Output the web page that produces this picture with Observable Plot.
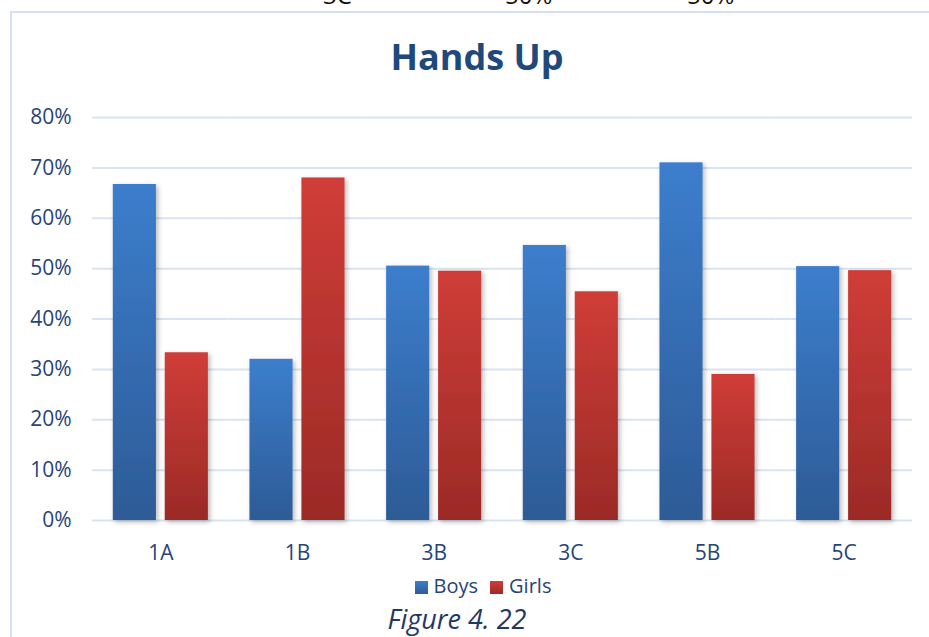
<!DOCTYPE html>
<html>
<head>
<meta charset="utf-8">
<script src="https://cdn.jsdelivr.net/npm/d3@7"></script>
<script src="https://cdn.jsdelivr.net/npm/@observablehq/plot@0.6"></script>
<style>
  html, body { margin: 0; padding: 0; background: #fff; width: 929px; height: 637px; overflow: hidden; }
  #page { position: relative; width: 929px; height: 637px; font-family: "Open Sans", sans-serif; }
  .abs { position: absolute; white-space: nowrap; }
  #box { position: absolute; left: 10px; top: 11px; width: 940px; height: 700px; border-left: 2px solid #d6e2f3; border-top: 2px solid #d6e2f3; box-sizing: border-box; }
  #title { left: 277px; width: 400px; top: 37px; text-align: center; font-weight: 700; font-size: 36px; line-height: 40px; color: #1f497d; }
  #chart { position: absolute; left: 0; top: 95px; }
  #legend { left: 283px; width: 400px; top: 572px; text-align: center; font-size: 20px; line-height: 28px; color: #264478; }
  #legend .sw { display: inline-block; width: 13px; height: 13px; vertical-align: -1px; margin-right: 6px; }
  #legend .item { margin: 0 6px 0 6px; }
  #caption { left: 257px; width: 400px; top: 603px; text-align: center; font-style: italic; font-size: 27px; line-height: 32px; color: #1f3864; }
  .cut { top: -17px; font-size: 24px; line-height: 24px; color: #111; }
</style>
</head>
<body>
<div id="page">
  <div class="abs cut" style="left:323px">3C</div>
  <div class="abs cut" style="left:505px">50%</div>
  <div class="abs cut" style="left:687px">50%</div>
  <div id="box"></div>
  <div id="title" class="abs">Hands Up</div>
  <div id="chart"></div>
  <div id="legend" class="abs"></div>
  <div id="caption" class="abs">Figure 4. 22</div>
</div>
<script>
// ---- data ----
const classes = ["1A", "1B", "3B", "3C", "5B", "5C"];
const seriesNames = ["Boys", "Girls"];
const boys  = [66.7, 32.0, 50.5, 54.6, 71.0, 50.4];
const girls = [33.3, 68.0, 49.5, 45.4, 29.0, 49.6];
const yTicks = [0, 10, 20, 30, 40, 50, 60, 70, 80];

const rows = classes.flatMap((c, i) => [
  {cls: c, sex: seriesNames[0], v: boys[i]},
  {cls: c, sex: seriesNames[1], v: girls[i]}
]);

const svg = Plot.plot({
  width: 929,
  height: 475,
  marginLeft: 92,
  marginRight: 17,
  marginTop: 22,
  marginBottom: 50,
  style: {fontFamily: "Open Sans, sans-serif", fontSize: "21px", color: "#264478", background: "transparent", overflow: "visible"},
  fx: {domain: classes, padding: 0, round: false, label: null, axis: "bottom", tickSize: 0, tickPadding: 25},
  x: {domain: seriesNames, paddingInner: 0.17, paddingOuter: 0.4, round: false, axis: null},
  y: {domain: [0, 80], ticks: yTicks, tickFormat: d => d + "%", tickSize: 0, tickPadding: 21, label: null},
  marks: [
    Plot.ruleY(yTicks, {stroke: "#d9e4f2", strokeWidth: 2}),
    Plot.barY(rows.filter(d => d.sex === "Boys"), {fx: "cls", x: "sex", y: "v", fill: "url(#gBoys)"}),
    Plot.barY(rows.filter(d => d.sex === "Girls"), {fx: "cls", x: "sex", y: "v", fill: "url(#gGirls)"})
  ]
});

const ns = "http://www.w3.org/2000/svg";
const defs = document.createElementNS(ns, "defs");
defs.innerHTML = `
  <linearGradient id="gBoys" x1="0" y1="0" x2="0" y2="1">
    <stop offset="0" stop-color="#3c7ecd"/>
    <stop offset="1" stop-color="#2d5b96"/>
  </linearGradient>
  <linearGradient id="gGirls" x1="0" y1="0" x2="0" y2="1">
    <stop offset="0" stop-color="#d03d38"/>
    <stop offset="1" stop-color="#9b2a27"/>
  </linearGradient>
  <filter id="sh" x="-30%" y="-10%" width="160%" height="120%">
    <feDropShadow dx="2" dy="2" stdDeviation="2.5" flood-color="#000" flood-opacity="0.28"/>
  </filter>`;
svg.insertBefore(defs, svg.firstChild);
svg.querySelectorAll('g[aria-label="bar"]').forEach(g => g.setAttribute("filter", "url(#sh)"));
svg.querySelectorAll('g[aria-label="y-axis tick label"] text, g[aria-label="fx-axis tick label"] text').forEach(t => t.setAttribute("fill", "#264478"));
document.getElementById("chart").appendChild(svg);

// legend
const legend = document.getElementById("legend");
const grads = {Boys: "linear-gradient(#3c7ecd,#2d5b96)", Girls: "linear-gradient(#d03d38,#9b2a27)"};
seriesNames.forEach(s => {
  const item = document.createElement("span");
  item.className = "item";
  const sw = document.createElement("span");
  sw.className = "sw";
  sw.style.background = grads[s];
  item.appendChild(sw);
  item.appendChild(document.createTextNode(s));
  legend.appendChild(item);
});
</script>
</body>
</html>
